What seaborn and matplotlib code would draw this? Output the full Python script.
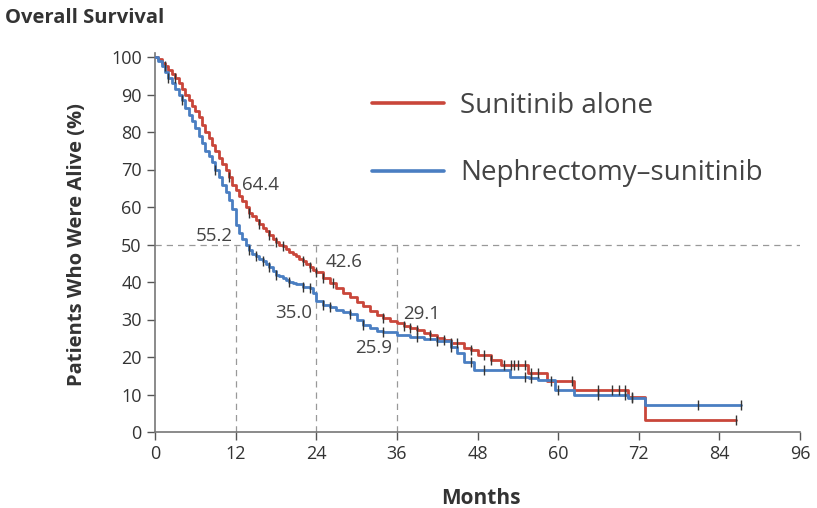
import numpy as np
import pandas as pd
import seaborn as sns
import matplotlib.pyplot as plt
from matplotlib.lines import Line2D

# Kaplan-Meier step values (months, % alive)
red_months = [0, 0.5, 1, 1.5, 2, 2.5, 3, 3.5, 4, 4.5, 5, 5.5, 6, 6.5, 7, 7.5, 8, 8.5,
              9, 9.5, 10, 10.5, 11, 11.5, 12, 12.5, 13, 13.5, 14, 14.5, 15, 15.5,
              16, 16.5, 17, 17.5, 18, 18.5, 19, 19.5, 20, 20.5, 21, 21.5, 22, 22.5,
              23, 23.5, 24, 25, 26, 27, 28, 29, 30, 31, 32, 33, 34, 35, 36, 37, 38,
              39, 40, 41, 42, 43, 44, 46, 47, 48, 50, 51.5, 55.5, 58.4, 62.4, 70.4,
              73, 86.4]
red_surv = [100, 99.5, 98.5, 97.5, 96.5, 95.5, 94.5, 93, 91.5, 90, 88.5, 87, 85.5,
            84, 82, 80, 78.5, 76.5, 75, 73, 71.5, 70, 68, 66, 64.4, 63, 61.5, 60,
            58.5, 57.5, 56.5, 55.5, 54.5, 53.5, 52.5, 51.5, 50.8, 50, 49.5, 48.8,
            48, 47.5, 47, 46.2, 45.5, 44.8, 44, 43.3, 42.6, 41, 39.8, 38.5, 37, 36,
            34.8, 33.6, 32.4, 31.2, 30.4, 29.6, 29.1, 28.4, 27.8, 27.2, 26.5, 25.8,
            25.2, 24.5, 23.8, 22.5, 21.9, 20.5, 19.2, 17.9, 15.7, 13.6, 11.2, 9.3,
            3.2, 3.2]

blue_months = [0, 0.5, 1, 1.5, 2, 2.5, 3, 3.5, 4, 4.5, 5, 5.5, 6, 6.5, 7, 7.5, 8, 8.5,
               9, 9.5, 10, 10.5, 11, 11.5, 12, 12.5, 13, 13.5, 14, 14.5, 15, 15.5,
               16, 16.5, 17, 17.5, 18, 18.5, 19, 19.5, 20, 20.5, 21, 22, 23, 23.5,
               24, 25, 26, 27, 28, 29, 30, 31, 32, 33, 34, 36, 38, 40, 42, 44, 45,
               46, 47.5, 52.8, 55.6, 57, 59.6, 62.3, 70.4, 73, 87.2]
blue_surv = [100, 99, 97.5, 96, 94.5, 93, 91.5, 90, 88.5, 86.5, 84.5, 83, 81, 79, 77,
             75, 73.5, 72, 70, 68, 66, 64, 62, 59.5, 55.2, 53, 51.5, 50, 48.5, 47.5,
             47, 46.2, 45.5, 44.8, 44, 43, 42, 41.5, 41, 40.5, 40, 39.8, 39.5, 38.8,
             38.5, 37, 35.0, 34, 33.4, 32.5, 32, 31.6, 30, 28.5, 27.8, 27, 26.6,
             25.9, 25.3, 24.8, 24.4, 22.7, 21, 18.7, 16.5, 14.7, 14.3, 14.0, 11.2,
             9.9, 9.0, 7.2, 7.2]

# censoring times (tick marks)
red_censor = [1.5, 3, 11, 14, 15.5, 17, 18, 19, 22, 23, 24, 25, 26.5, 34, 37, 38, 39,
              41, 43, 44, 45, 47, 49, 50, 52, 53, 53.5, 54, 55, 56, 57, 59, 62, 66,
              68, 69, 70, 71, 86.4]
blue_censor = [2, 4, 9, 14, 15, 16, 17, 18, 20, 22, 23, 25, 26, 29, 31, 34, 39, 42,
               44, 47, 49, 55, 56, 60, 66, 70, 71, 80.8, 87.2]

arms = ["Sunitinib alone", "Nephrectomy\u2013sunitinib"]
colors = ["#c9463a", "#4a7ec2"]

# landmark labels: (text, month, %, alignment)
annotations = [("64.4", 13.0, 66.0, "left"), ("55.2", 11.6, 52.3, "right"),
               ("42.6", 25.4, 45.3, "left"), ("35.0", 23.4, 31.7, "right"),
               ("29.1", 36.9, 31.5, "left"), ("25.9", 35.3, 22.4, "right")]
landmarks = [12, 24, 36]

df = pd.concat([
    pd.DataFrame({"Months": red_months, "Survival": red_surv, "Arm": arms[0]}),
    pd.DataFrame({"Months": blue_months, "Survival": blue_surv, "Arm": arms[1]}),
])


def censor_frame(times, months, surv, arm):
    idx = np.searchsorted(months, times, side="right") - 1
    return pd.DataFrame({"Months": times, "Survival": np.array(surv)[idx], "Arm": arm})


cens = pd.concat([censor_frame(red_censor, red_months, red_surv, arms[0]),
                  censor_frame(blue_censor, blue_months, blue_surv, arms[1])])

sns.set_style("ticks")
plt.rcParams['font.family'] = ['Open Sans', 'DejaVu Sans']

fig = plt.figure(figsize=(8.17, 5.08), dpi=100)
ax = fig.add_axes([155 / 817, 1 - 432 / 508, 645 / 817, 378.75 / 508])

# reference lines
ax.axhline(50, color="#999999", lw=0.9, ls=(0, (5, 4)), zorder=1)
for m in landmarks:
    ax.plot([m, m], [0, 50], color="#999999", lw=0.9, ls=(0, (5, 4)), zorder=1)

sns.lineplot(data=df, x="Months", y="Survival", hue="Arm", hue_order=arms,
             palette=colors, drawstyle="steps-post", estimator=None, sort=False,
             lw=2.0, legend=False, ax=ax, zorder=3)
sns.scatterplot(data=cens, x="Months", y="Survival", marker="|", s=45,
                color="#333333", linewidth=1.0, legend=False, ax=ax, zorder=4)

for txt, x, y, ha in annotations:
    ax.text(x, y, txt, ha=ha, va="center", fontsize=13.5, color="#444444")

ax.set_xlim(0, 96)
ax.set_ylim(0, 101)
ax.set_xticks(range(0, 97, 12))
ax.set_yticks(range(0, 101, 10))
ax.tick_params(colors="#555555", labelcolor="#333333", labelsize=13, length=6, width=1)
for side in ["top", "right"]:
    ax.spines[side].set_visible(False)
for side in ["left", "bottom"]:
    ax.spines[side].set_color("#777777")
    ax.spines[side].set_linewidth(1.2)

ax.set_xlabel("Months", fontsize=15, fontweight="bold", color="#333333", va="top")
ax.xaxis.set_label_coords(0.505, -0.148)
ax.set_ylabel("Patients Who Were Alive (%)", fontsize=14.5, fontweight="bold",
              color="#333333")
ax.yaxis.set_label_coords(-0.105, 0.494)

handles = [Line2D([], [], color=c, lw=2.6) for c in colors]
ax.legend(handles, arms, loc="upper left", bbox_to_anchor=(0.336, 0.898),
          frameon=False, fontsize=20, handlelength=2.6, handletextpad=0.58,
          labelspacing=1.42, borderpad=0, borderaxespad=0, labelcolor="#444444")

fig.text(5 / 817, 1 - 18 / 508, "Overall Survival", fontsize=14.5, fontweight="bold",
         color="#333333", va="center", ha="left")

fig.savefig("out.png", dpi=100)
plt.close(fig)
